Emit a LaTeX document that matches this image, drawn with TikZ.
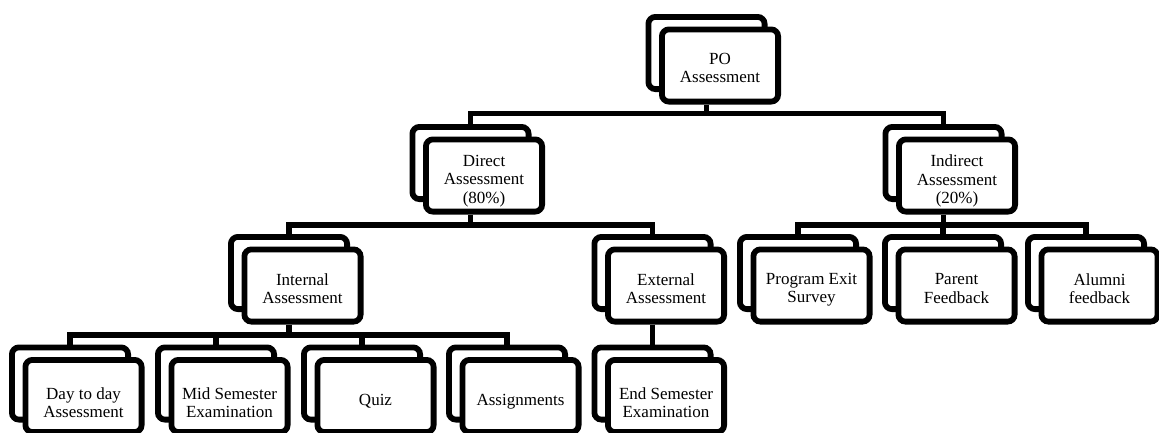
\documentclass[tikz,border=0pt]{standalone}
\usepackage{fontspec}
\setmainfont{Liberation Serif}
\usetikzlibrary{calc}
\tikzset{
  bk/.style={draw, line width=5.8pt, rounded corners=7pt, fill=white,
    minimum width=116.2pt, minimum height=72.2pt, inner sep=0pt},
  lbl/.style={inner sep=0pt, align=center,
    font=\fontsize{17}{18.3}\selectfont},
  link/.style={line width=5.8pt, line join=miter}
}
% \dbox[text shift down]{name}{x}{y}{text}
\newcommand{\dbox}[5][3]{%
  \node[bk] (#2B) at (#3,#4) {};
  \node[bk] (#2F) at ($(#2B)+(13.5,12.5)$) {};
  \node[lbl] (#2T) at ($(#2F)+(0,#1)$) {#5};
}
\begin{document}
\begin{tikzpicture}[x=1pt,y=-1pt]
\useasboundingbox (0,0) rectangle (1159,432);
% level 1
\dbox[2.5]{po}{706.5}{53}{PO\\Assessment}
% level 2
\dbox[5.5]{dir}{470.5}{163}{Direct\\Assessment\\(80\%)}
\dbox[5.5]{ind}{943.5}{163}{Indirect\\Assessment\\(20\%)}
% level 3
\dbox[3]{int}{289}{273}{Internal\\Assessment}
\dbox[3]{ext}{652.5}{273}{External\\Assessment}
\dbox[4.5]{pes}{798}{273}{Program Exit\\Survey}
\dbox[3]{par}{943}{273}{Parent\\Feedback}
\dbox[3]{alu}{1086}{273}{Alumni\\feedback}
% level 4
\dbox[7]{day}{70}{383.5}{Day to day\\Assessment}
\dbox[7]{mid}{216}{383.5}{Mid Semester\\Examination}
\dbox[5.5]{quiz}{362}{383.5}{Quiz}
\dbox[5.5]{asg}{507}{383.5}{Assignments}
\dbox[7]{end}{652.5}{383.5}{End Semester\\Examination}
% junctions
\coordinate (j1) at (706.5,113.5);
\coordinate (j2) at (470.5,225);
\coordinate (j2b) at (943.5,225);
\coordinate (j3) at (289,335);
% connectors
\draw[link] (poB |- poF.south) -- (j1);
\draw[link] (dirB.north) |- (j1) -| (indB.north);
\draw[link] (dirB |- dirF.south) -- (j2);
\draw[link] (intB.north) |- (j2) -| (extB.north);
\draw[link] (indB |- indF.south) -- (j2b);
\draw[link] (pesB.north) |- (j2b) -| (aluB.north);
\draw[link] (parB.north) -- (parB.north |- j2b);
\draw[link] (intB |- intF.south) -- (j3);
\draw[link] (dayB.north) |- (j3) -| (asgB.north);
\draw[link] (midB.north) -- (midB.north |- j3);
\draw[link] (quizB.north) -- (quizB.north |- j3);
\draw[link] (extB |- extF.south) -- (endB.north);
\end{tikzpicture}
\end{document}
